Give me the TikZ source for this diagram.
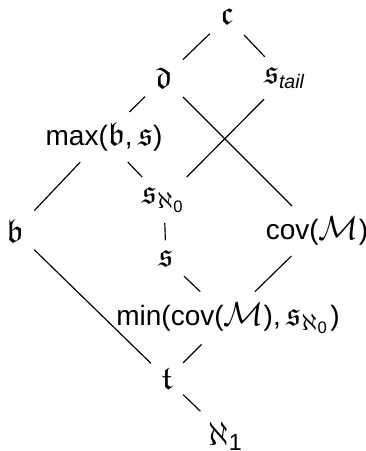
\documentclass[tikz,border=0pt]{standalone}
\usepackage{amsmath}
\usepackage{amssymb}
\usepackage{fontspec}
\newfontfamily\lsans[Scale=0.84]{Liberation Sans}
\newfontfamily\lsansd{Liberation Sans}
\newcommand{\sfz}{\text{\lsansd 0}}
\newcommand{\sfo}{\text{\lsansd 1}}
\begin{document}
\begin{tikzpicture}[x=0.3pt,y=-0.3pt,
  lbl/.style={font=\lsans\fontsize{10}{12}\selectfont, inner sep=3pt},
  link/.style={draw, line width=0.35pt}]
\useasboundingbox (0,0) rectangle (366,451);
\node[lbl] (c) at (227,17) {$\mathfrak{c}$};
\node[lbl] (d) at (164,78) {$\mathfrak{d}$};
\node[lbl] (st) at (285,78) {$\mathfrak{s}_{\text{\lsans\itshape tail}}$};
\node[lbl] (mx) at (104,137) {max($\mathfrak{b}$,$\,\mathfrak{s}$)};
\node[lbl] (b) at (15,231) {$\mathfrak{b}$};
\node[lbl] (sa) at (164,200) {$\mathfrak{s}_{\aleph_{\sfz}}$};
\node[lbl] (cov) at (317,231) {cov($\mathcal{M}$)};
\node[lbl] (s) at (166,259) {$\mathfrak{s}$};
\node[lbl] (mn) at (228,318) {min(cov($\mathcal{M}$),$\,\mathfrak{s}_{\aleph_{\sfz}}$)};
\node[lbl] (t) at (167,379) {$\mathfrak{t}$};
\node[lbl] (a1) at (226,436) {$\aleph_{\sfo}$};
\path[link] (c) -- (d);
\path[link] (c) -- (st);
\path[link] (d) -- (mx);
\path[link] (d) -- (cov);
\path[link] (st) -- (sa);
\path[link] (mx) -- (sa);
\path[link] (mx) -- (b);
\path[link] (sa) -- (s);
\path[link] (b) -- (t);
\path[link] (s) -- (mn);
\path[link] (cov) -- (mn);
\path[link] (mn) -- (t);
\path[link] (t) -- (a1);
\end{tikzpicture}
\end{document}
